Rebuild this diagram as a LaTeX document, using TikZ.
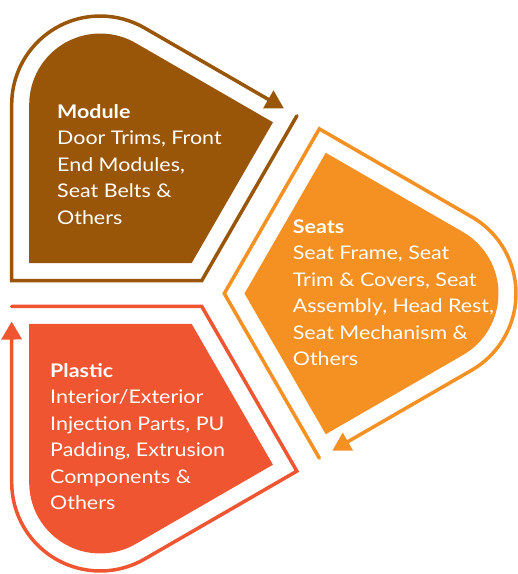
\documentclass[tikz,border=0pt]{standalone}
\usepackage{fontspec}
\setmainfont{Lato}[FakeStretch=1.14]
\usetikzlibrary{arrows.meta}
\definecolor{modbrown}{RGB}{153,86,8}
\definecolor{seatorange}{RGB}{245,145,35}
\definecolor{plasticred}{RGB}{240,85,50}
\newcommand{\petallines}[1]{\begin{tabular}[t]{@{}l@{}}#1\end{tabular}}
\tikzset{
  petal/.pic={
    \fill[#1] (35.2,0) -- (116.45,-140.73) -- (253.7,-61.49)
      arc[start angle=-60,end angle=60,radius=71] -- (116.45,140.73) -- cycle;
    \draw[#1, line width=3.5pt, line cap=round, -{Triangle[length=18pt,width=20pt]}]
      (110.05,-164.64) -- (14.99,0) -- (110.05,164.64) -- (262.45,76.64)
      arc[start angle=60,end angle=-60,radius=88.5] -- (123.05,-157.14);
  },
  petaltext/.style={text=white, font=\fontsize{18.8}{26.5}\selectfont,
    anchor=base west, inner sep=0pt},
}
\begin{document}
\begin{tikzpicture}[x=1pt,y=1pt]
  \fill[white] (0,0) rectangle (518,-574);
  \useasboundingbox (0,0) rectangle (518,-574);
  \coordinate (O) at (209.3,-293.5);
  \pic[rotate=120] at (O) {petal=modbrown};
  \pic at (O) {petal=seatorange};
  \pic[rotate=240] at (O) {petal=plasticred};
  \node[petaltext] (module) at (57,-118.3)
    {\petallines{\textbf{Module}\\Door Trims, Front\\End Modules,\\Seat Belts \&\\Others}};
  \node[petaltext] (seats) at (292.7,-233.3)
    {\petallines{\textbf{Seats}\\Seat Frame, Seat\\Trim \& Covers, Seat\\Assembly, Head Rest,\\Seat Mechanism \&\\Others}};
  \node[petaltext] (plastic) at (50,-377.3)
    {\petallines{\textbf{Plastic}\\Interior/Exterior\\Injection Parts, PU\\Padding, Extrusion\\Components \&\\Others}};
\end{tikzpicture}
\end{document}
